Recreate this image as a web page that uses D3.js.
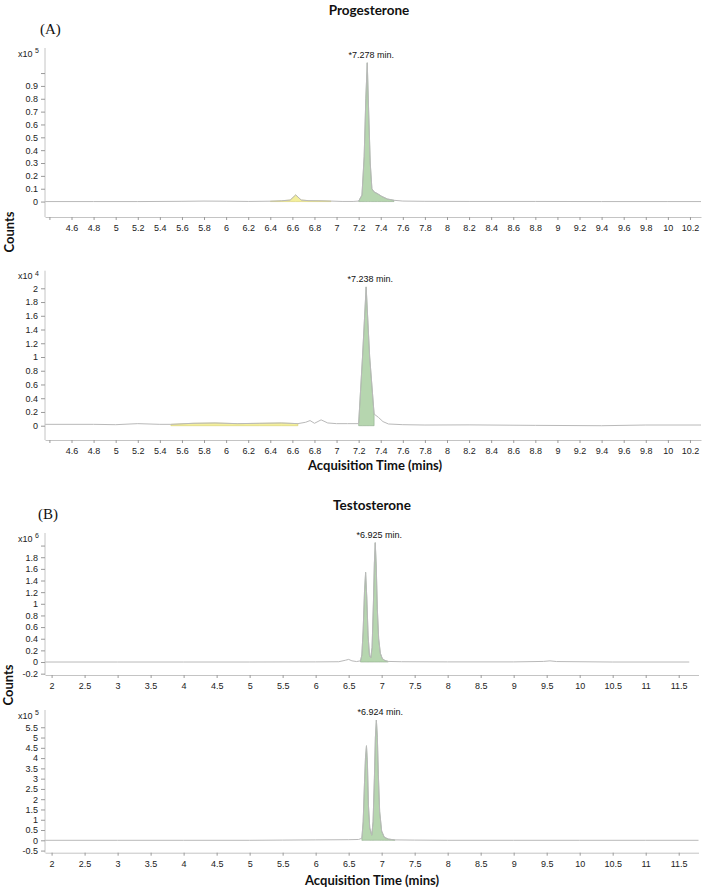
<!DOCTYPE html>
<html>
<head>
<meta charset="utf-8">
<script src="https://cdn.jsdelivr.net/npm/d3@7"></script>
<style>
  body { margin: 0; background: #fff; }
  svg { display: block; }
  .axis text { font-family: "Liberation Sans", Arial, sans-serif; font-size: 9px; fill: #222; }
  .axis line { stroke: #9a9a9a; }
  .axis path { stroke: #c4c4c4; }
  .title { font-family: Lato, "Open Sans", sans-serif; font-weight: bold; font-size: 13.5px; fill: #111; }
  .axtitle { font-family: Lato, "Open Sans", sans-serif; font-weight: bold; font-size: 13px; fill: #111; }
  .letter { font-family: "Liberation Serif", "Times New Roman", serif; font-size: 15px; fill: #111; }
  .mult { font-family: "Liberation Sans", Arial, sans-serif; font-size: 9px; fill: #222; }
  .rt { font-family: "Liberation Sans", Arial, sans-serif; font-size: 9px; fill: #111; }
</style>
</head>
<body>
<svg id="chart" width="709" height="890"></svg>
<script>
// ---- data (counts in units of the multiplier) ----
var prog1Time   = [4.36, 4.8, 5.2, 5.6, 5.8, 6.0, 6.2, 6.4, 6.5, 6.58, 6.63, 6.68, 6.75, 6.85, 6.95, 7.05, 7.15, 7.2, 7.23, 7.25, 7.265, 7.278, 7.29, 7.305, 7.32, 7.34, 7.37, 7.41, 7.46, 7.52, 7.6, 7.8, 8.2, 8.8, 9.4, 10.0, 10.3];
var prog1Counts = [0, 0, 0, 0.002, 0.004, 0.003, 0.001, 0.003, 0.006, 0.012, 0.052, 0.012, 0.007, 0.006, 0.004, 0.001, 0.001, 0.004, 0.05, 0.35, 0.8, 1.08, 0.72, 0.3, 0.1, 0.075, 0.062, 0.04, 0.02, 0.01, 0.004, 0.002, 0.001, 0.001, 0, 0, 0];
var prog1Windows = [[6.4, 7.0], [7.19, 7.55]];
var prog1Kinds   = ["qualifier", "target"];

var prog2Time   = [4.36, 4.8, 5.0, 5.2, 5.4, 5.5, 5.7, 5.9, 6.1, 6.3, 6.5, 6.65, 6.72, 6.76, 6.8, 6.86, 6.92, 7.0, 7.1, 7.2, 7.235, 7.268, 7.3, 7.34, 7.38, 7.42, 7.47, 7.6, 7.8, 8.2, 8.8, 9.4, 9.8, 10.3];
var prog2Counts = [0.02, 0.02, 0.015, 0.03, 0.02, 0.02, 0.035, 0.04, 0.03, 0.035, 0.04, 0.03, 0.05, 0.075, 0.035, 0.085, 0.04, 0.03, 0.03, 0.03, 1.0, 2.02, 1.0, 0.17, 0.12, 0.06, 0.025, 0.015, 0.01, 0.012, 0.005, 0.0, 0.01, 0.01];
var prog2Windows = [[5.5, 6.65], [7.2, 7.34]];
var prog2Kinds   = ["qualifier", "target"];

var testo1Time   = [1.9, 3, 4, 5, 6, 6.35, 6.45, 6.5, 6.55, 6.62, 6.68, 6.7, 6.72, 6.74, 6.757, 6.775, 6.795, 6.815, 6.835, 6.855, 6.875, 6.89, 6.903, 6.918, 6.935, 6.955, 6.98, 7.01, 7.05, 7.1, 7.3, 8, 9, 9.45, 9.55, 9.65, 10.5, 11.66];
var testo1Counts = [0, 0, 0, 0, 0.002, 0.005, 0.03, 0.045, 0.02, 0.008, 0.02, 0.12, 0.55, 1.2, 1.54, 1.1, 0.45, 0.12, 0.07, 0.25, 1.0, 1.7, 2.05, 1.65, 0.9, 0.4, 0.15, 0.06, 0.025, 0.01, 0.005, 0.002, 0.002, 0.01, 0.02, 0.008, 0, 0];
var testo1Windows = [[6.67, 7.1]];
var testo1Kinds   = ["target"];

var testo2Time   = [1.9, 3, 4, 5, 5.5, 6.0, 6.5, 6.65, 6.7, 6.72, 6.74, 6.755, 6.77, 6.785, 6.8, 6.82, 6.85, 6.87, 6.89, 6.905, 6.92, 6.935, 6.95, 6.97, 7.0, 7.04, 7.1, 7.2, 7.5, 8, 9, 10, 11, 11.8];
var testo2Counts = [0, 0, 0, 0, 0.01, 0.02, 0.03, 0.04, 0.1, 0.9, 2.8, 4.0, 4.6, 3.7, 1.7, 0.6, 0.25, 0.9, 3.0, 5.0, 5.85, 5.0, 3.2, 1.4, 0.45, 0.15, 0.06, 0.02, 0.01, 0, 0, 0, 0, 0];
var testo2Windows = [[6.7, 7.2]];
var testo2Kinds   = ["target"];

// ---- tick values / labels ----
var progXTicks  = [4.4, 4.6, 4.8, 5, 5.2, 5.4, 5.6, 5.8, 6, 6.2, 6.4, 6.6, 6.8, 7, 7.2, 7.4, 7.6, 7.8, 8, 8.2, 8.4, 8.6, 8.8, 9, 9.2, 9.4, 9.6, 9.8, 10, 10.2];
var testoXTicks = [2, 2.5, 3, 3.5, 4, 4.5, 5, 5.5, 6, 6.5, 7, 7.5, 8, 8.5, 9, 9.5, 10, 10.5, 11, 11.5];
var prog1YTicks  = [0, 0.1, 0.2, 0.3, 0.4, 0.5, 0.6, 0.7, 0.8, 0.9, 1.0];
var prog2YTicks  = [0, 0.2, 0.4, 0.6, 0.8, 1, 1.2, 1.4, 1.6, 1.8, 2];
var testo1YTicks = [-0.2, 0, 0.2, 0.4, 0.6, 0.8, 1, 1.2, 1.4, 1.6, 1.8, 2];
var testo2YTicks = [-0.5, 0, 0.5, 1, 1.5, 2, 2.5, 3, 3.5, 4, 4.5, 5, 5.5];

var compounds   = ["Progesterone", "Testosterone"];
var panelLetters = ["(A)", "(B)"];
var rtLabels    = ["*7.278 min.", "*7.238 min.", "*6.925 min.", "*6.924 min."];
var exponents   = [5, 4, 6, 5];
var xTitle = "Acquisition Time (mins)";
var yTitle = "Counts";

// ---- layout ----
var svg = d3.select("#chart");
var left = 45;

var panels = [
  { t: prog1Time, c: prog1Counts, win: prog1Windows, kinds: prog1Kinds, xd: [4.36, 10.3], yd: [-0.12, 1.195],
    right: 701, top: 48, bottom: 217, xt: progXTicks, xHide: [4.4], yt: prog1YTicks, yMaxLabel: 0.9 },
  { t: prog2Time, c: prog2Counts, win: prog2Windows, kinds: prog2Kinds, xd: [4.36, 10.3], yd: [-0.208, 2.256],
    right: 701, top: 270.7, bottom: 440, xt: progXTicks, xHide: [4.4], yt: prog2YTicks, yMaxLabel: 2 },
  { t: testo1Time, c: testo1Counts, win: testo1Windows, kinds: testo1Kinds, xd: [1.9, 11.8], yd: [-0.223, 2.216],
    right: 698.5, top: 533, bottom: 675, xt: testoXTicks, xHide: [], yt: testo1YTicks, yMaxLabel: 1.8 },
  { t: testo2Time, c: testo2Counts, win: testo2Windows, kinds: testo2Kinds, xd: [1.9, 11.8], yd: [-0.603, 6.34],
    right: 698.5, top: 710, bottom: 852.7, xt: testoXTicks, xHide: [], yt: testo2YTicks, yMaxLabel: 5.5 }
];

var fillColor = { target: "#b6d6af", qualifier: "#f3ef9c" };
var edgeColor = { target: "#8da98a", qualifier: "#d6cf6c" };
var num = function(d) { return String(+d.toFixed(2)); };

panels.forEach(function(p, i) {
  var x = d3.scaleLinear().domain(p.xd).range([left, p.right]);
  var y = d3.scaleLinear().domain(p.yd).range([p.bottom, p.top]);
  var g = svg.append("g");

  var pts = p.t.map(function(t, k) { return [t, p.c[k]]; });

  // integrated peak windows
  p.win.forEach(function(w, k) {
    var sub = pts.filter(function(d) { return d[0] >= w[0] && d[0] <= w[1]; });
    g.append("path")
      .datum(sub)
      .attr("fill", fillColor[p.kinds[k]])
      .attr("stroke", edgeColor[p.kinds[k]])
      .attr("stroke-width", 0.6)
      .attr("d", d3.area()
        .x(function(d) { return x(d[0]); })
        .y0(y(0))
        .y1(function(d) { return y(d[1]); }));
  });

  // trace
  g.append("path")
    .datum(pts)
    .attr("fill", "none")
    .attr("stroke", "#b9b9b9")
    .attr("stroke-width", 1)
    .attr("d", d3.line()
      .x(function(d) { return x(d[0]); })
      .y(function(d) { return y(d[1]); }));

  // axes
  g.append("g")
    .attr("class", "axis")
    .attr("transform", "translate(0," + p.bottom + ")")
    .call(d3.axisBottom(x).tickValues(p.xt).tickSize(3).tickSizeOuter(0)
      .tickFormat(function(d) { return p.xHide.indexOf(d) >= 0 ? "" : num(d); }))
    .call(function(a) { a.selectAll("text").attr("dy", "0.9em"); });

  g.append("g")
    .attr("class", "axis")
    .attr("transform", "translate(" + left + ",0)")
    .call(d3.axisLeft(y).tickValues(p.yt).tickSize(4).tickSizeOuter(0)
      .tickFormat(function(d) { return d > p.yMaxLabel + 1e-9 ? "" : num(d); }))
    .call(function(a) {
      a.select(".domain").attr("d", "M0," + p.top + "V" + p.bottom);
    });

  // multiplier
  var m = g.append("text").attr("class", "mult").attr("x", 18).attr("y", p.top + 8.5);
  m.append("tspan").text("x10 ");
  m.append("tspan").attr("font-size", "7px").attr("dy", -3.5).text(exponents[i]);

  // retention time label at apex
  var apex = d3.maxIndex(p.c);
  g.append("text")
    .attr("class", "rt")
    .attr("text-anchor", "middle")
    .attr("x", x(p.t[apex]) + 4)
    .attr("y", y(p.c[apex]) - 5)
    .text(rtLabels[i]);
});

// titles
svg.append("text").attr("class", "title").attr("text-anchor", "middle")
  .attr("x", 369).attr("y", 15).text(compounds[0]);
svg.append("text").attr("class", "title").attr("text-anchor", "middle")
  .attr("x", 372).attr("y", 510).text(compounds[1]);
svg.append("text").attr("class", "letter").attr("x", 40).attr("y", 34).text(panelLetters[0]);
svg.append("text").attr("class", "letter").attr("x", 38).attr("y", 519).text(panelLetters[1]);

svg.append("text").attr("class", "axtitle").attr("text-anchor", "middle")
  .attr("x", 375).attr("y", 470).text(xTitle);
svg.append("text").attr("class", "axtitle").attr("text-anchor", "middle")
  .attr("x", 372).attr("y", 885).text(xTitle);

svg.append("text").attr("class", "axtitle").attr("text-anchor", "middle")
  .attr("transform", "translate(14,232) rotate(-90)").text(yTitle);
svg.append("text").attr("class", "axtitle").attr("text-anchor", "middle")
  .attr("transform", "translate(13,685) rotate(-90)").text(yTitle);
</script>
</body>
</html>
